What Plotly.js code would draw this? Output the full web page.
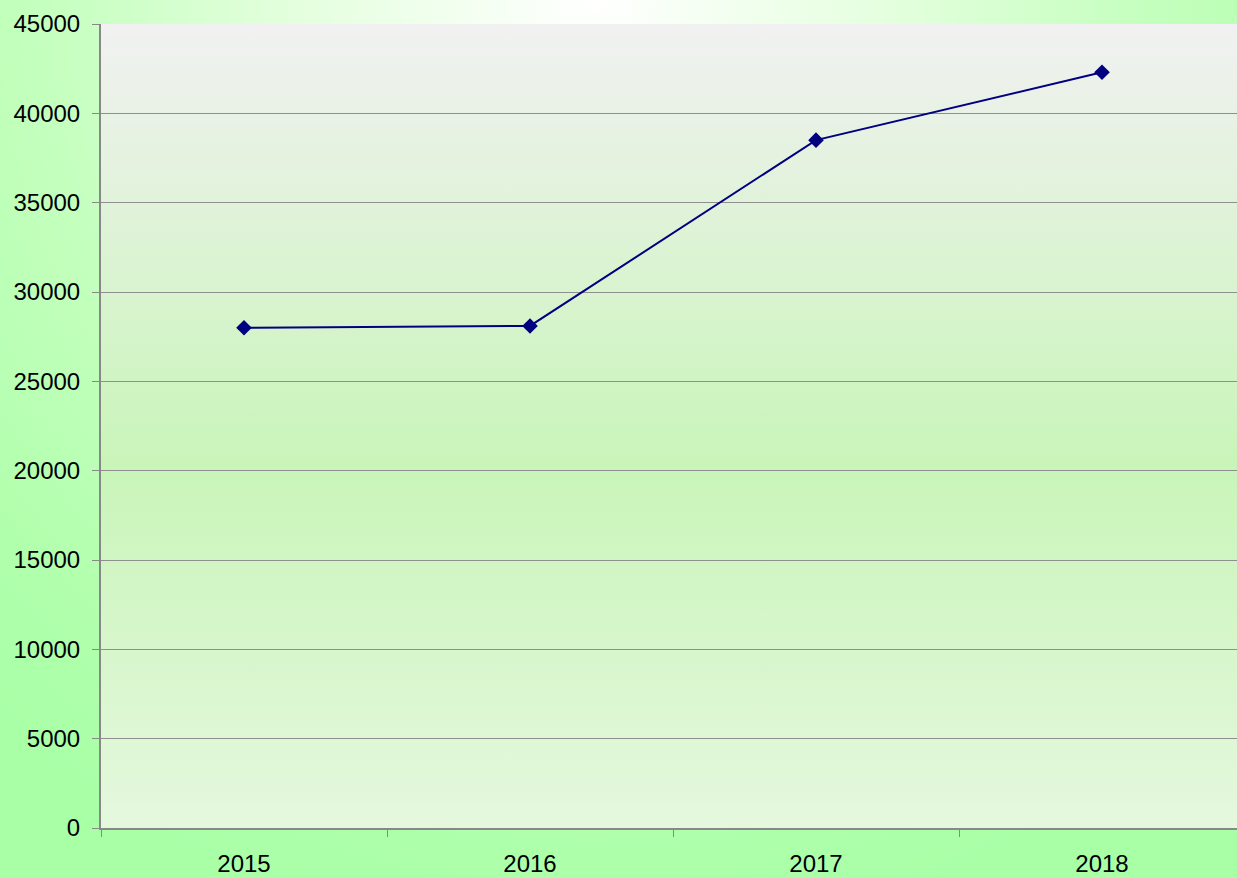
<!DOCTYPE html>
<html>
<head>
<meta charset="utf-8">
<script src="https://cdn.plot.ly/plotly-3.0.1.min.js"></script>
<style>
html,body{margin:0;padding:0;}
#chart{width:1237px;height:878px;background:radial-gradient(ellipse 75% 110% at 48% 0%, #ffffff 0%, #e6ffe0 30%, #c4ffbe 60%, #b0ffac 85%, #a8ffa6 100%);}
</style>
</head>
<body>
<div id="chart"></div>
<script>
const years = ['2015', '2016', '2017', '2018'];
const values = [28000, 28100, 38500, 42300];
const yTicks = [0, 5000, 10000, 15000, 20000, 25000, 30000, 35000, 40000, 45000];

const svg = '<svg xmlns="http://www.w3.org/2000/svg" width="100" height="100" preserveAspectRatio="none" viewBox="0 0 100 100">' +
  '<defs><linearGradient id="g" x1="0" y1="0" x2="0" y2="1">' +
  '<stop offset="0" stop-color="#f1f1f1"/>' +
  '<stop offset="0.55" stop-color="#c9f5b9"/>' +
  '<stop offset="1" stop-color="#e5f8de"/>' +
  '</linearGradient></defs><rect width="100" height="100" fill="url(#g)"/></svg>';
const bgImg = 'data:image/svg+xml;charset=utf-8,' + encodeURIComponent(svg);

const trace = {
  x: years,
  y: values,
  type: 'scatter',
  mode: 'lines+markers',
  line: {color: '#000080', width: 2},
  marker: {symbol: 'diamond', size: 12, color: '#000080'},
  hoverinfo: 'x+y'
};

const layout = {
  width: 1237,
  height: 878,
  margin: {l: 101, r: 0, t: 24, b: 50},
  paper_bgcolor: 'rgba(0,0,0,0)',
  plot_bgcolor: 'rgba(0,0,0,0)',
  showlegend: false,
  font: {family: 'Liberation Sans, Arial, sans-serif', color: '#000', size: 24},
  images: [{
    source: bgImg, xref: 'paper', yref: 'paper', x: 0, y: 1, sizex: 1, sizey: 1,
    sizing: 'stretch', xanchor: 'left', yanchor: 'top', layer: 'below'
  }],
  xaxis: {
    type: 'category',
    range: [-0.5, 3.472],
    tickson: 'boundaries',
    ticks: 'outside',
    ticklen: 7,
    tickwidth: 1,
    tickcolor: '#888888',
    showline: true,
    linecolor: '#888888',
    linewidth: 2,
    showgrid: false,
    zeroline: false,
    ticklabelstandoff: 13,
    tickfont: {size: 24}
  },
  yaxis: {
    range: [0, 45000],
    tickvals: yTicks,
    ticktext: yTicks.map(String),
    ticks: 'outside',
    ticklen: 7,
    tickwidth: 1,
    tickcolor: '#888888',
    showline: true,
    linecolor: '#888888',
    linewidth: 2,
    showgrid: true,
    gridcolor: '#8f8f8f',
    gridwidth: 1,
    zeroline: false,
    ticklabelstandoff: 7,
    tickfont: {size: 24}
  }
};

Plotly.newPlot('chart', [trace], layout, {displayModeBar: false});
</script>
</body>
</html>
